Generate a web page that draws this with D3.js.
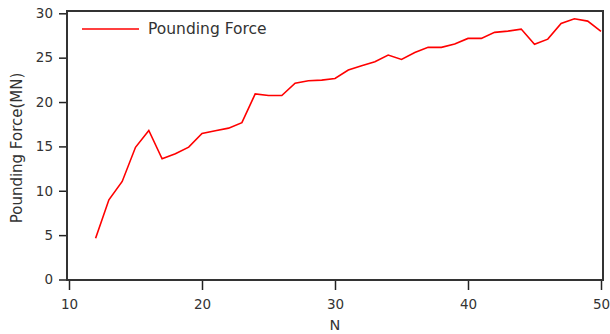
<!DOCTYPE html>
<html>
<head>
<meta charset="utf-8">
<script src="https://cdn.jsdelivr.net/npm/d3@7"></script>
<style>
  body { margin: 0; background: #fff; }
  text { font-family: "DejaVu Sans", Verdana, sans-serif; fill: #333; }
</style>
</head>
<body>
<div id="chart"></div>
<script>
// pounding force per N
const nValues = [12, 13, 14, 15, 16, 17, 18, 19, 20, 21, 22, 23, 24, 25, 26, 27, 28, 29, 30,
                 31, 32, 33, 34, 35, 36, 37, 38, 39, 40, 41, 42, 43, 44, 45, 46, 47, 48, 49, 50];
const forceValues = [4.66, 8.98, 11.05, 14.9, 16.8, 13.6, 14.17, 14.92, 16.46, 16.76, 17.06, 17.67, 20.92,
                     20.74, 20.74, 22.13, 22.4, 22.47, 22.66, 23.6, 24.09, 24.54, 25.29, 24.8, 25.59, 26.16,
                     26.16, 26.53, 27.17, 27.17, 27.85, 27.99, 28.22, 26.5, 27.09, 28.86, 29.39, 29.12, 27.96];
const xTicks = [10, 20, 30, 40, 50];
const yTicks = [0, 5, 10, 15, 20, 25, 30];
const seriesName = "Pounding Force";

const data = nValues.map((n, i) => ({n: n, f: forceValues[i]}));

const svg = d3.select("#chart")
    .append("svg")
    .attr("width", 610)
    .attr("height", 334);

const x = d3.scaleLinear()
    .domain([10, 50])
    .range([69, 601]);

const y = d3.scaleLinear()
    .domain([0, 30])
    .range([279.5, 13.3]);

// plot frame
svg.append("rect")
    .attr("x", 67)
    .attr("y", 11)
    .attr("width", 536)
    .attr("height", 269)
    .attr("fill", "none")
    .attr("stroke", "#333")
    .attr("stroke-width", 2);

// x axis
const xAxis = svg.append("g")
    .attr("transform", "translate(0,281)")
    .call(d3.axisBottom(x).tickValues(xTicks).tickSize(9).tickPadding(9));
xAxis.select(".domain").remove();
xAxis.selectAll("line").attr("stroke", "#222").attr("stroke-width", 1.5);
xAxis.selectAll("text").style("font-size", "13.5px").attr("fill", "#333");

// y axis
const yAxis = svg.append("g")
    .attr("transform", "translate(66,0)")
    .call(d3.axisLeft(y).tickValues(yTicks).tickSize(7).tickPadding(6));
yAxis.select(".domain").remove();
yAxis.selectAll("line").attr("stroke", "#222").attr("stroke-width", 1.5);
yAxis.selectAll("text").style("font-size", "13.5px").attr("fill", "#333");

// the line
const line = d3.line()
    .x(d => x(d.n))
    .y(d => y(d.f));

svg.append("path")
    .datum(data)
    .attr("fill", "none")
    .attr("stroke", "#ff0000")
    .attr("stroke-width", 1.6)
    .attr("d", line);

// legend
svg.append("line")
    .attr("x1", 82)
    .attr("x2", 139)
    .attr("y1", 29)
    .attr("y2", 29)
    .attr("stroke", "#ff0000")
    .attr("stroke-width", 1.6);

svg.append("text")
    .attr("x", 148)
    .attr("y", 34)
    .style("font-size", "15.5px")
    .text(seriesName);

// axis labels
svg.append("text")
    .attr("x", 335)
    .attr("y", 330)
    .style("text-anchor", "middle")
    .style("font-size", "14.5px")
    .text("N");

svg.append("text")
    .attr("transform", "translate(22,148) rotate(-90)")
    .style("text-anchor", "middle")
    .style("font-size", "15px")
    .text("Pounding Force(MN)");
</script>
</body>
</html>
